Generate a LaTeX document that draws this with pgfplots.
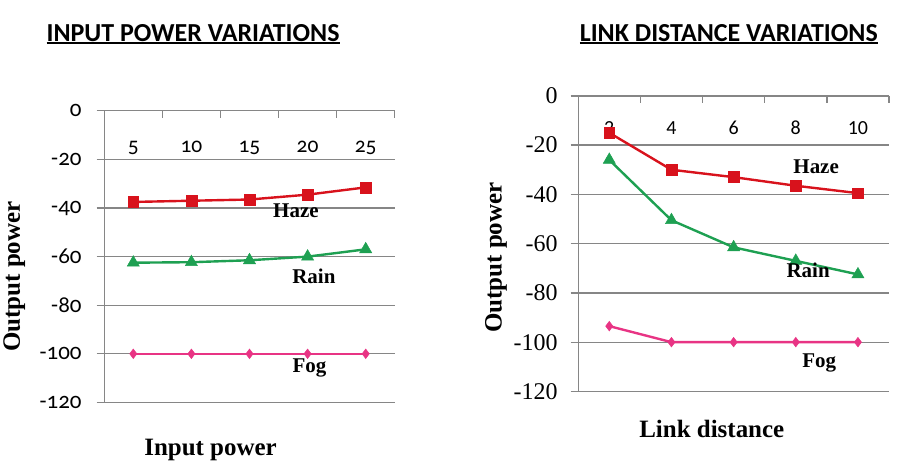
\documentclass[border=0pt]{standalone}
\usepackage{fontspec}
\usepackage{pgfplots}
\pgfplotsset{compat=1.18}
\setmainfont{Liberation Serif}
\newfontfamily\calib{Carlito}
\newfontfamily\oldfig[Numbers=OldStyle]{Carlito}

% tick label fonts
\newcommand\lyt{\oldfig\fontsize{23bp}{26bp}\selectfont}
\newcommand\lxt{\oldfig\fontsize{21.5bp}{24bp}\selectfont}
\newcommand\ryt{\rmfamily\fontsize{24bp}{27bp}\selectfont}
\newcommand\rxt{\calib\fontsize{20bp}{24bp}\selectfont}
% thick underline for the panel titles
\newcommand\ul[1]{\setbox0\hbox{#1}\rlap{\rule[-2.6bp]{\wd0}{1.9bp}}\box0}

\definecolor{haze}{RGB}{216,18,28}
\definecolor{rain}{RGB}{30,160,82}
\definecolor{fog}{RGB}{232,52,132}
\definecolor{gridgray}{RGB}{134,134,134}

\pgfplotsset{
  layers/below labels/.define layer set={axis background,axis grid,axis ticks,axis lines,axis tick labels,main,axis descriptions,axis foreground}{},
  panel/.style={
    set layers=below labels,
    scale only axis,
    anchor=south west,
    xmin=0.5, xmax=5.5, ymin=-120, ymax=0,
    axis x line*=top, axis y line*=left,
    axis line style={draw=gridgray, line width=1.3bp},
    xtick={0.5,1.5,...,5.5},
    x tick label as interval,
    ytick={-120,-100,...,0},
    ymajorgrids,
    grid style={draw=gridgray, line width=1.3bp},
    tick align=outside,
    major tick length=7.5bp,
    xtick style={draw=gridgray, line width=1.3bp, yshift=-7.5bp},
    ytick style={draw=gridgray, line width=1.3bp},
    ticklabel style={inner sep=0pt},
    yticklabel style={anchor=east},
    xticklabel style={anchor=base},
    clip=false,
  },
  hazeplot/.style={haze, line width=2.4bp, mark=square*, mark size=5.4bp, mark options={fill=haze, draw=haze, line width=0.5bp}},
  rainplot/.style={rain, line width=2.4bp, mark=triangle*, mark size=7bp, mark options={fill=rain, draw=rain, line width=0.5bp}},
  fogplot/.style={fog, line width=2.4bp, mark=diamond*, mark size=4.8bp, mark options={fill=fog, draw=fog, line width=0.5bp}},
}

\begin{document}
\begin{tikzpicture}
\path (0,0) rectangle (906bp,-466bp);

% ---------- input power panel ----------
\begin{axis}[panel,
  at={(103bp,-403bp)}, width=291bp, height=292bp,
  xticklabels={{\lxt 5},{\lxt 10},{\lxt 15},{\lxt 20},{\lxt 25}},
  yticklabels={{\lyt -120},{\lyt -100},{\lyt -80},{\lyt -60},{\lyt -40},{\lyt -20},{\lyt 0}},
  xticklabel style={yshift=-49.4bp},
  yticklabel style={xshift=-15bp},
]
\addplot[hazeplot] coordinates {(1,-37.5) (2,-37) (3,-36.5) (4,-34.5) (5,-31.5)};
\addplot[rainplot] coordinates {(1,-62.5) (2,-62.3) (3,-61.5) (4,-60) (5,-57)};
\addplot[fogplot] coordinates {(1,-100) (2,-100) (3,-100) (4,-100) (5,-100)};
\end{axis}

% ---------- link distance panel ----------
\begin{axis}[panel,
  at={(577.7bp,-392bp)}, width=311.3bp, height=296bp,
  xticklabels={{\rxt 2},{\rxt 4},{\rxt 6},{\rxt 8},{\rxt 10}},
  yticklabels={{\ryt -120},{\ryt -100},{\ryt -80},{\ryt -60},{\ryt -40},{\ryt -20},{\ryt 0}},
  xticklabel style={yshift=-46.5bp},
  yticklabel style={xshift=-13bp},
]
\addplot[hazeplot] coordinates {(1,-15) (2,-30) (3,-33) (4,-36.5) (5,-39.5)};
\addplot[rainplot] coordinates {(1,-26) (2,-50.5) (3,-61.5) (4,-67) (5,-72.5)};
\addplot[fogplot] coordinates {(1,-93.5) (2,-100) (3,-100) (4,-100) (5,-100)};
\end{axis}

% titles
\node[anchor=base, font=\calib\bfseries\fontsize{26bp}{30bp}\selectfont] at (192bp,-41.7bp) {\ul{INPUT POWER VARIATIONS}};
\node[anchor=base, font=\calib\bfseries\fontsize{26bp}{30bp}\selectfont] at (728.5bp,-41.7bp) {\ul{LINK DISTANCE VARIATIONS}};

% axis descriptions
\node[anchor=base, rotate=90, font=\bfseries\fontsize{25bp}{29bp}\selectfont] at (18.5bp,-277bp) {Output power};
\node[anchor=base, rotate=90, font=\bfseries\fontsize{25bp}{29bp}\selectfont] at (501bp,-258bp) {Output power};
\node[anchor=base, font=\bfseries\fontsize{25bp}{29bp}\selectfont] at (209.5bp,-456bp) {Input power};
\node[anchor=base, font=\bfseries\fontsize{25bp}{29bp}\selectfont] at (711.5bp,-438bp) {Link distance};

% series names
\begin{scope}[every node/.style={anchor=base, font=\bfseries\fontsize{21bp}{25bp}\selectfont}]
\node at (295bp,-218.3bp) {Haze};
\node at (313bp,-284.3bp) {Rain};
\node at (308.5bp,-372.7bp) {Fog};
\node at (816bp,-173.3bp) {Haze};
\node at (808bp,-277.7bp) {Rain};
\node at (819bp,-367.7bp) {Fog};
\end{scope}
\end{tikzpicture}
\end{document}
